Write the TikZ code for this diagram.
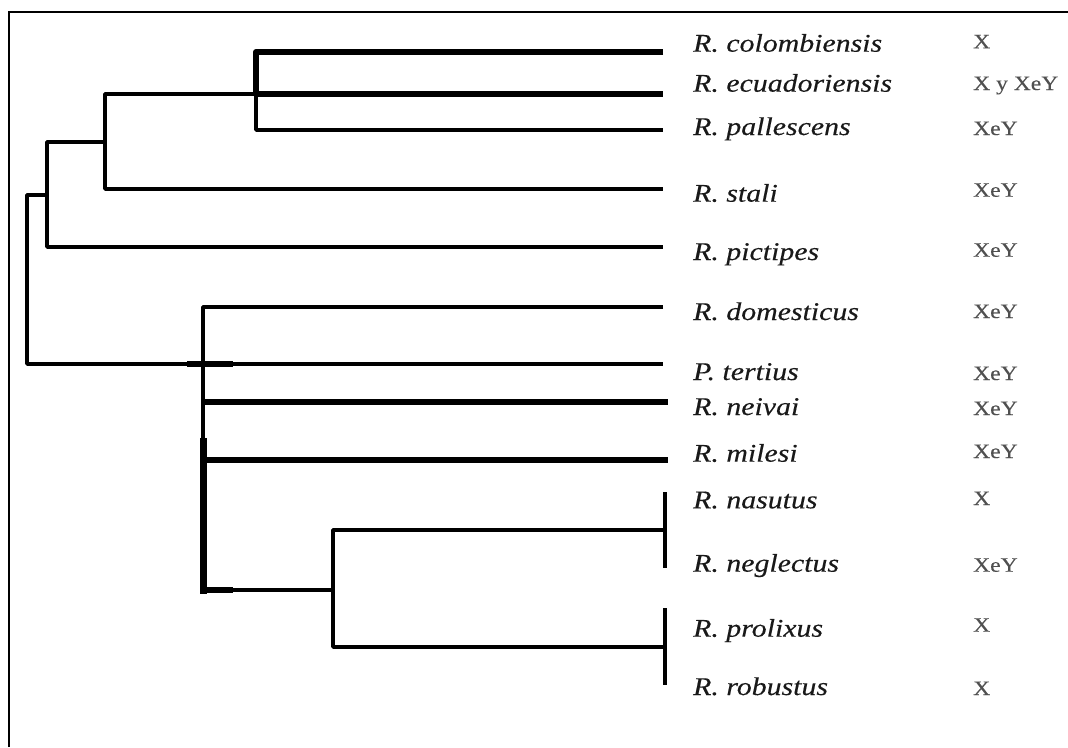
\documentclass[tikz,border=0pt]{standalone}
\usepackage{fontspec}
\usetikzlibrary{calc}
\newfontfamily\taxfont{Liberation Serif}[FakeStretch=1.17,FakeBold=0.3]
\newfontfamily\karyofont{Liberation Serif}[FakeStretch=1.15,FakeBold=0.25]
\definecolor{taxink}{RGB}{25,25,25}
\definecolor{karyoink}{RGB}{80,80,80}
\begin{document}
\begin{tikzpicture}[x=1pt,y=-1pt,
  br/.style={line width=3.8pt,line join=round},
  thk/.style={line width=5.8pt,line join=round},
  vthk/.style={line width=7pt},
  frame/.style={line width=2pt},
  taxon/.style={anchor=base west,inner sep=0pt,text=taxink,
    font=\taxfont\itshape\fontsize{25.5}{30}\selectfont},
  karyo/.style={anchor=base west,inner sep=0pt,text=karyoink,
    font=\karyofont\fontsize{20.5}{24}\selectfont}]
\useasboundingbox (0,0) rectangle (1068,747);

% frame (top and left edges)
\coordinate (fbl) at (8.8,747);
\coordinate (ftl) at (8.8,11.8);
\coordinate (ftr) at (1068,11.8);
\draw[frame] (fbl) -- (ftl) -- (ftr);

% internal nodes of the tree
\coordinate (nR) at (27,280);
\coordinate (nA) at (47,195);
\coordinate (nB) at (105,142);
\coordinate (nC) at (256,94);
\coordinate (nD) at (203,364);
\coordinate (nDm) at (203,438);
\coordinate (nDb) at (203,590);
\coordinate (nE) at (333,590);

% branch tips
\coordinate (tCol) at (663,52);
\coordinate (tEcu) at (663,94);
\coordinate (tPal) at (663,130);
\coordinate (tSta) at (663,189);
\coordinate (tPic) at (663,247);
\coordinate (tDom) at (663,307);
\coordinate (tTer) at (663,364);
\coordinate (tNei) at (668,402);
\coordinate (tMil) at (668,460);
\coordinate (tF) at (665,530);
\coordinate (tG) at (665,647);
\coordinate (fTop) at (665,492);
\coordinate (fBot) at (665,568);
\coordinate (gTop) at (665,608);
\coordinate (gBot) at (665,685);

% upper clade
\draw[br] (nA) -| (nR) |- (tTer);
\draw[br] (nB) -| (nA) |- (tPic);
\draw[br] (nC) -| (nB) |- (tSta);
\draw[thk] (tCol) -| (nC) -- (tEcu);
\draw[br] (nC) |- (tPal);

% lower clade
\draw[thk] ($(nD)+(-16,0)$) -- ($(nD)+(30,0)$);
\draw[br] (tDom) -| (nD) -- (nDm);
\draw[vthk] (nDm) -- ($(nDb)+(0,3.5)$);
\draw[thk] (nDb) -- ($(nDb)+(30,0)$);
\draw[br] (nDb) -- (nE);
\draw[thk] (nD |- tNei) -- (tNei);
\draw[thk] (nD |- tMil) -- (tMil);
\draw[br] (tF) -| (nE) |- (tG);
\draw[br] (fTop) -- (fBot);
\draw[br] (gTop) -- (gBot);

% species names
\node[taxon] (sCol) at (693,51.7) {R. colombiensis};
\node[taxon] (sEcu) at (693,91.7) {R. ecuadoriensis};
\node[taxon] (sPal) at (693,135) {R. pallescens};
\node[taxon] (sSta) at (693,201.7) {R. stali};
\node[taxon] (sPic) at (693,260) {R. pictipes};
\node[taxon] (sDom) at (693,320) {R. domesticus};
\node[taxon] (sTer) at (693,380) {P. tertius};
\node[taxon] (sNei) at (693,415) {R. neivai};
\node[taxon] (sMil) at (693,461.7) {R. milesi};
\node[taxon] (sNas) at (693,508.3) {R. nasutus};
\node[taxon] (sNeg) at (693,571.7) {R. neglectus};
\node[taxon] (sPro) at (693,636.7) {R. prolixus};
\node[taxon] (sRob) at (693,695) {R. robustus};

% sex chromosome systems
\node[karyo] (kCol) at (973,48.3) {X};
\node[karyo] (kEcu) at (973,90) {X y XeY};
\node[karyo] (kPal) at (973,135) {XeY};
\node[karyo] (kSta) at (973,196.7) {XeY};
\node[karyo] (kPic) at (973,256.7) {XeY};
\node[karyo] (kDom) at (973,318) {XeY};
\node[karyo] (kTer) at (973,380) {XeY};
\node[karyo] (kNei) at (973,415) {XeY};
\node[karyo] (kMil) at (973,458) {XeY};
\node[karyo] (kNas) at (973,505) {X};
\node[karyo] (kNeg) at (973,571.7) {XeY};
\node[karyo] (kPro) at (973,631.7) {X};
\node[karyo] (kRob) at (973,695) {X};
\end{tikzpicture}
\end{document}
